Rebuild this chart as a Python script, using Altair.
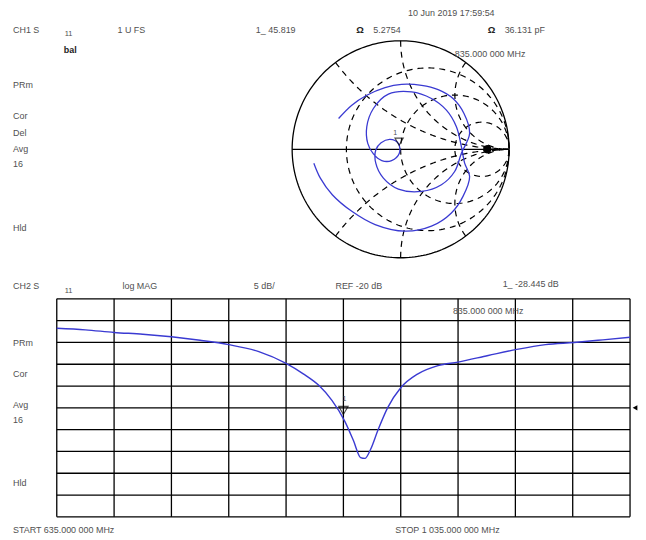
import altair as alt
import numpy as np
import pandas as pd

FONT = "Liberation Sans, Arial, Helvetica, sans-serif"
TXT = "#505050"
BLUE = "#3a3ad2"

# ---------------- data ----------------
# Lower panel: S11 log magnitude (dB) versus frequency (MHz)
freq_mhz = [635, 655, 675, 695, 715, 735, 755, 776, 795, 807, 818, 827, 836, 842,
            847, 850, 854, 859, 866, 875, 887, 901, 915, 936, 956, 976, 996, 1016, 1035]
s11_db = [-1.75, -2.1, -2.7, -3.1, -3.7, -4.5, -5.5, -7.1, -9.8, -12.2, -14.9, -18.3,
          -23.1, -27.5, -31.4, -31.6, -29.5, -25.2, -19.9, -15.4, -12.2, -10.3, -9.5,
          -8.0, -6.6, -5.5, -5.0, -4.4, -3.8]
grid_freq = [635, 675, 715, 755, 795, 835, 875, 915, 955, 995, 1035]
grid_db = [-45, -40, -35, -30, -25, -20, -15, -10, -5, 0, 5]
ref_db = [-20]
marker_freq = [835]
marker_db = [-23.1]

# Upper panel: S11 on Smith chart (reflection coefficient, real / imaginary)
smith_re = [-0.80, -0.74, -0.63, -0.45, -0.235, 0.04, 0.284, 0.468, 0.575, 0.636,
            0.59, 0.56, 0.514, 0.422, 0.284, 0.101, -0.113, -0.251, -0.312, -0.303,
            -0.251, -0.174, -0.083, -0.012, -0.021, -0.098, -0.18, -0.229, -0.229,
            -0.159, -0.021, 0.193, 0.376, 0.498, 0.56, 0.636, 0.584, 0.483, 0.346,
            0.193, 0.009, -0.144, -0.312, -0.45, -0.572]
smith_im = [-0.128, -0.266, -0.419, -0.572, -0.694, -0.755, -0.709, -0.587, -0.434,
            -0.251, -0.128, 0.024, 0.208, 0.361, 0.468, 0.529, 0.508, 0.376, 0.208,
            0.055, -0.043, -0.104, -0.104, -0.037, 0.055, 0.092, 0.061, -0.006,
            -0.128, -0.266, -0.367, -0.388, -0.327, -0.205, -0.037, 0.147, 0.330,
            0.468, 0.550, 0.590, 0.599, 0.569, 0.498, 0.407, 0.284]
smith_marker_re = [-0.014]
smith_marker_im = [0.07]
smith_dot_re = [0.80]
smith_dot_im = [0.0]
res_circles = [1 / 3, 1, 3]
react_arcs = [0.5, 1, 2, -0.5, -1, -2]

# ---------------- scales ----------------
FX = alt.Scale(domain=[635, 1035], range=[49, 625], nice=False, zero=False)
FY = alt.Scale(domain=[-45, 5], range=[509, 290], nice=False, zero=False)
GX = alt.Scale(domain=[-1, 1], range=[285.5, 503.5], nice=False, zero=False)
GY = alt.Scale(domain=[-1, 1], range=[248.7, 30.7], nice=False, zero=False)

one = pd.DataFrame({"a": [0]})


def label(text, X, Y, size=9, color=TXT, weight="normal"):
    return alt.Chart(one).mark_text(
        text=text, align="left", baseline="middle", font=FONT,
        fontSize=size, color=color, fontWeight=weight
    ).encode(x=alt.value(X - 8), y=alt.value(Y - 8))


layers = []

# ---------- Smith chart graticule ----------
th = np.linspace(0, 2 * np.pi, 241)
outer = pd.DataFrame({"re": np.cos(th), "im": np.sin(th), "o": np.arange(len(th))})
layers.append(alt.Chart(outer).mark_line(color="black", strokeWidth=1.3).encode(
    x=alt.X("re:Q", scale=GX, axis=None), y=alt.Y("im:Q", scale=GY, axis=None),
    order="o:Q"))

rows = []
gid = 0
xs = np.tan(np.linspace(-np.pi / 2 + 0.004, np.pi / 2 - 0.004, 240))
for r in res_circles:
    g = (r + 1j * xs - 1) / (r + 1j * xs + 1)
    for k, v in enumerate(g):
        rows.append((v.real, v.imag, gid, k))
    gid += 1
rs = np.tan(np.linspace(0, np.pi / 2 - 0.004, 200))
for x in react_arcs:
    g = (rs + 1j * x - 1) / (rs + 1j * x + 1)
    for k, v in enumerate(g):
        rows.append((v.real, v.imag, gid, k))
    gid += 1
grat = pd.DataFrame(rows, columns=["re", "im", "g", "o"])
layers.append(alt.Chart(grat).mark_line(color="black", strokeWidth=1.2,
                                        strokeDash=[6, 5]).encode(
    x=alt.X("re:Q", scale=GX, axis=None), y=alt.Y("im:Q", scale=GY, axis=None),
    detail="g:N", order="o:Q"))

axis_df = pd.DataFrame({"x1": [-1], "x2": [1], "y": [0]})
layers.append(alt.Chart(axis_df).mark_rule(color="black", strokeWidth=1.3).encode(
    x=alt.X("x1:Q", scale=GX, axis=None), x2="x2:Q",
    y=alt.Y("y:Q", scale=GY, axis=None)))

# ---------- Smith chart trace ----------
smith = pd.DataFrame({"re": smith_re, "im": smith_im, "o": range(len(smith_re))})
layers.append(alt.Chart(smith).mark_line(color=BLUE, strokeWidth=1.3,
                                         interpolate="catmull-rom").encode(
    x=alt.X("re:Q", scale=GX, axis=None), y=alt.Y("im:Q", scale=GY, axis=None),
    order="o:Q"))

sm = pd.DataFrame({"re": smith_marker_re, "im": smith_marker_im})
layers.append(alt.Chart(sm).mark_point(shape="triangle-down", filled=False, size=70,
                                       color="black", strokeWidth=1.1).encode(
    x=alt.X("re:Q", scale=GX, axis=None), y=alt.Y("im:Q", scale=GY, axis=None)))
sd = pd.DataFrame({"re": smith_dot_re, "im": smith_dot_im})
layers.append(alt.Chart(sd).mark_point(shape="circle", filled=True, size=70,
                                       color="black", opacity=1).encode(
    x=alt.X("re:Q", scale=GX, axis=None), y=alt.Y("im:Q", scale=GY, axis=None)))

# ---------- lower log-mag grid ----------
vg = pd.DataFrame({"f": grid_freq})
layers.append(alt.Chart(vg).mark_rule(color="black", strokeWidth=1.3).encode(
    x=alt.X("f:Q", scale=FX, axis=None), y=alt.value(290), y2=alt.value(509)))
hg = pd.DataFrame({"d": grid_db})
layers.append(alt.Chart(hg).mark_rule(color="black", strokeWidth=1.3).encode(
    y=alt.Y("d:Q", scale=FY, axis=None), x=alt.value(49), x2=alt.value(625)))

trace = pd.DataFrame({"f": freq_mhz, "db": s11_db})
layers.append(alt.Chart(trace).mark_line(color=BLUE, strokeWidth=1.4,
                                         interpolate="monotone").encode(
    x=alt.X("f:Q", scale=FX, axis=None), y=alt.Y("db:Q", scale=FY, axis=None)))

mk = pd.DataFrame({"f": marker_freq, "db": marker_db})
layers.append(alt.Chart(mk).mark_point(shape="triangle-down", filled=False, size=90,
                                       color="black", strokeWidth=1.1, yOffset=-11).encode(
    x=alt.X("f:Q", scale=FX, axis=None), y=alt.Y("db:Q", scale=FY, axis=None)))

rf = pd.DataFrame({"db": ref_db})
layers.append(alt.Chart(rf).mark_point(shape="triangle-left", filled=True, size=30,
                                       color="black", opacity=1).encode(
    x=alt.value(630), y=alt.Y("db:Q", scale=FY, axis=None)))

# ---------- annotations ----------
layers += [
    label("10 Jun 2019 17:59:54", 410, 11),
    label("CH1 S", 13, 28),
    label("11", 65, 32, size=7.5),
    label("1 U FS", 118, 28),
    label("1_ 45.819", 257, 28),
    label("Ω", 358, 28, size=9.5, color="#222222", weight="bold"),
    label("5.2754", 375, 28),
    label("Ω", 490, 28, size=9.5, color="#222222", weight="bold"),
    label("36.131 pF", 507, 28),
    label("bal", 64, 48, size=9, color="#222222", weight="bold"),
    label("835.000 000 MHz", 457, 52),
    label("PRm", 13, 83),
    label("Cor", 13, 114),
    label("Del", 13, 131),
    label("Avg", 13, 147),
    label("16", 13, 163),
    label("Hld", 13, 227),
    label("1", 395, 131, size=7),
    label("CH2 S", 13, 285),
    label("11", 65, 290, size=7.5),
    label("log MAG", 123, 285),
    label("5 dB/", 255, 285),
    label("REF -20 dB", 337, 285),
    label("1_ -28.445 dB", 505, 283),
    label("835.000 000 MHz", 455, 310),
    label("PRm", 13, 342),
    label("Cor", 13, 373),
    label("Avg", 13, 405),
    label("16", 13, 420),
    label("Hld", 13, 483),
    label("1", 344, 399, size=7),
    label("START 635.000 000 MHz", 13, 530),
    label("STOP 1 035.000 000 MHz", 397, 530),
]

chart = alt.layer(*layers).resolve_scale(
    x="independent", y="independent"
).properties(width=630, height=524, padding=0).configure_view(stroke=None)

chart.save("out.html", embed_options={"renderer": "svg", "actions": False})
